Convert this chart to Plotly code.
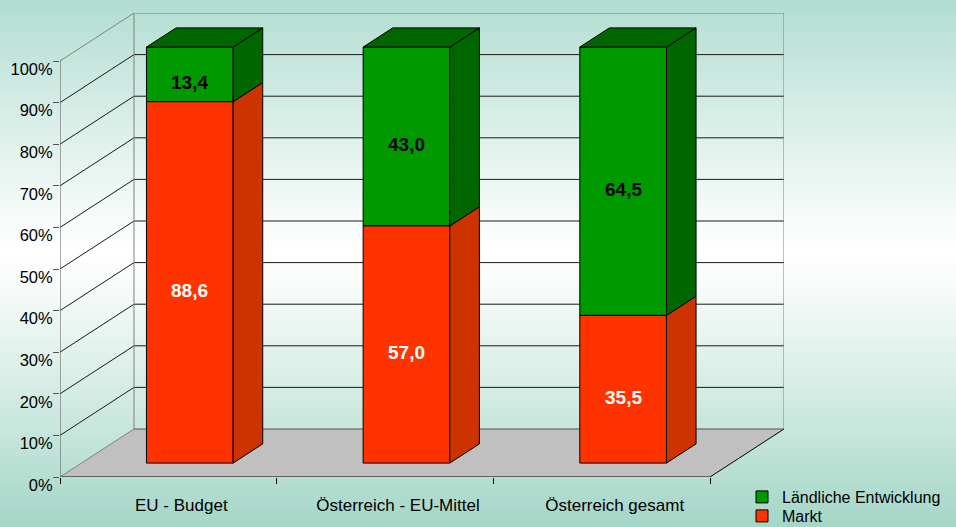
import plotly.graph_objects as go

# ---------------- data ----------------
categories = ["EU - Budget", "Österreich - EU-Mittel", "Österreich gesamt"]
markt = [88.6, 57.0, 35.5]
laendlich = [13.4, 43.0, 64.5]
y_ticks = [0, 10, 20, 30, 40, 50, 60, 70, 80, 90, 100]
y_tick_labels = [f"{v}%" for v in y_ticks]
series_names = ["Ländliche Entwicklung", "Markt"]

# ---------------- style / geometry ----------------
W, H = 956, 527
FONT = "Liberation Sans, Arial, sans-serif"
RED, RED_SIDE = "#FF3300", "#CC3300"
GREEN, GREEN_SIDE = "#009900", "#006600"
FLOOR = "#C0C0C0"
FRAME = "#808080"
GRID = "#1a1a1a"

X0, X1 = -0.5, len(categories) - 0.5        # front plane category extent
DX, DY = 0.3415, 11.54                      # depth offset in axis units
F0, F1 = 0.29, 0.69                         # bar front/back depth fractions
BW = 0.40                                   # bar width

# pixel layout of plot area
PX_L, PX_R, PX_T, PX_B = 60, 784, 13, 477

# 100% stacking
tot = [m + l for m, l in zip(markt, laendlich)]
p_m = [m / t * 100 for m, t in zip(markt, tot)]
p_l = [l / t * 100 for l, t in zip(laendlich, tot)]

def fmt(v):
    return f"{v:.1f}".replace(".", ",")

fig = go.Figure()

# ---------------- background gradient ----------------
shapes = []
N = 132
mint_top = (178, 221, 209)
mint_bot = (164, 214, 199)
ymid = 255
for k in range(N):
    y0p = k * H / N
    y1p = (k + 1) * H / N
    yc = (y0p + y1p) / 2
    if yc < ymid:
        t = (ymid - yc) / ymid
        c = mint_top
    else:
        t = (yc - ymid) / (H - ymid)
        c = mint_bot
    t = min(1.0, t) ** 1.1
    col = tuple(round(255 + (ci - 255) * t) for ci in c)
    shapes.append(dict(type="rect", xref="paper", yref="paper", x0=0, x1=1,
                       y0=1 - y1p / H - 0.001, y1=1 - y0p / H + 0.001,
                       fillcolor=f"rgb{col}", line=dict(width=0), layer="below"))

def seg(xa, ya, xb, yb, color, width=1):
    shapes.append(dict(type="line", xref="x", yref="y", x0=xa, y0=ya, x1=xb, y1=yb,
                       line=dict(color=color, width=width), layer="below"))

# floor
shapes.append(dict(type="path", xref="x", yref="y",
                   path=f"M{X0},0 L{X1},0 L{X1+DX},{DY} L{X0+DX},{DY} Z",
                   fillcolor=FLOOR, line=dict(width=0), layer="below"))
seg(X0, 0, X1, 0, "black")
seg(X1, 0, X1 + DX, DY, "black")
seg(X0 + DX, DY, X1 + DX, DY, "#555555")

# left wall diagonals and back wall gridlines
for v in y_ticks:
    c = FRAME if v in (0, 100) else GRID
    seg(X0, v, X0 + DX, v + DY, c)
    if 0 < v < 100:
        seg(X0 + DX, v + DY, X1 + DX, v + DY, GRID)
seg(X0 + DX, 100 + DY, X1 + DX, 100 + DY, FRAME)
seg(X0 + DX, DY, X0 + DX, 100 + DY, FRAME)
seg(X1 + DX, DY, X1 + DX, 100 + DY, FRAME)
seg(X0, 0, X0, 100, "#555555")

# ---------------- bars (front faces) ----------------
xs = [i + F0 * DX for i in range(len(categories))]
base_m = [F0 * DY for _ in categories]
base_l = [F0 * DY + pm for pm in p_m]

fig.add_trace(go.Bar(x=xs, y=p_l, base=base_l, width=BW, name=series_names[0],
                     marker=dict(color=GREEN, line=dict(color="black", width=1)),
                     hoverinfo="skip", legend="legend"))
fig.add_trace(go.Bar(x=xs, y=p_m, base=base_m, width=BW, name=series_names[1],
                     marker=dict(color=RED, line=dict(color="black", width=1)),
                     hoverinfo="skip", legend="legend2"))

# ---------------- side / top faces ----------------
ddx = (F1 - F0) * DX
ddy = (F1 - F0) * DY

def poly(px, py, color):
    fig.add_trace(go.Scatter(x=px + [px[0]], y=py + [py[0]], mode="lines", fill="toself",
                             fillcolor=color, line=dict(color="black", width=1),
                             hoverinfo="skip", showlegend=False))

for i, xc in enumerate(xs):
    xr = xc + BW / 2
    xl = xc - BW / 2
    for b, h, col in ((base_m[i], p_m[i], RED_SIDE), (base_l[i], p_l[i], GREEN_SIDE)):
        t = b + h
        poly([xr, xr + ddx, xr + ddx, xr], [b, b + ddy, t + ddy, t], col)
    top = base_l[i] + p_l[i]
    poly([xl, xr, xr + ddx, xl + ddx], [top, top, top + ddy, top + ddy], GREEN_SIDE)

# ---------------- value labels ----------------
annotations = []
for i, xc in enumerate(xs):
    annotations.append(dict(x=xc, y=base_m[i] + p_m[i] / 2, text=fmt(markt[i]), showarrow=False,
                            yshift=-8, font=dict(family=FONT, size=19, color="white", weight="bold")))
    annotations.append(dict(x=xc, y=base_l[i] + p_l[i] / 2, text=fmt(laendlich[i]), showarrow=False,
                            yshift=-8, font=dict(family=FONT, size=19, color="black", weight="bold")))

legend_common = dict(xanchor="left", yanchor="top", bgcolor="rgba(0,0,0,0)",
                     font=dict(size=16, family=FONT, color="black"), itemwidth=30)

fig.update_layout(
    width=W, height=H,
    margin=dict(l=0, r=0, t=0, b=0, autoexpand=False),
    paper_bgcolor="rgb(178,221,209)",
    plot_bgcolor="rgba(0,0,0,0)",
    barmode="overlay",
    hovermode=False,
    shapes=shapes,
    annotations=annotations,
    font=dict(family=FONT, color="black"),
    xaxis=dict(domain=[PX_L / W, PX_R / W], range=[X0, X1 + DX],
               tickmode="array", tickvals=list(range(len(categories))), ticktext=categories,
               ticks="", showgrid=False, zeroline=False, showline=False,
               tickfont=dict(size=17, family=FONT, color="black"),
               ticklabelshift=13, ticklabelstandoff=16,
               minor=dict(tickmode="linear", tick0=X0, dtick=1, ticks="outside",
                          ticklen=6, tickcolor="black", tickwidth=1, showgrid=False),
               automargin=False, fixedrange=True),
    yaxis=dict(domain=[1 - PX_B / H, 1 - PX_T / H], range=[0, 100 + DY],
               tickmode="array", tickvals=y_ticks, ticktext=y_tick_labels,
               ticks="outside", ticklen=6, tickcolor="#555555", tickwidth=1,
               showgrid=False, zeroline=False, showline=False,
               tickfont=dict(size=16.5, family=FONT, color="black"),
               ticklabelshift=8, ticklabelstandoff=-3,
               automargin=False, fixedrange=True),
    legend=dict(x=742 / W, y=1 - 480 / H, **legend_common),
    legend2=dict(x=742 / W, y=1 - 499 / H, **legend_common),
    showlegend=True,
)

fig.write_html("out.html")
